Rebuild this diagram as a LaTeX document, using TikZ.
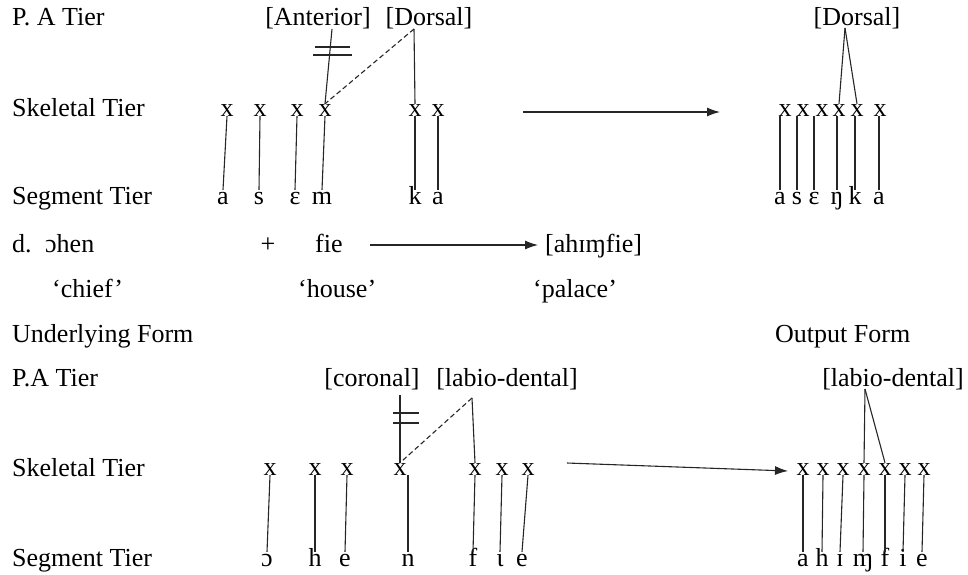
\documentclass[tikz,border=0pt]{standalone}
\usepackage{fontspec}
\setmainfont{Liberation Serif}
\usetikzlibrary{arrows.meta}
\begin{document}
\begin{tikzpicture}[x=1pt,y=-1pt,
  every node/.style={font=\fontsize{26}{30}\selectfont, inner sep=0pt},
  lbl/.style={anchor=base west},
  feat/.style={anchor=base},
  skx/.style={anchor=base, text height=12pt, text depth=0pt},
  seg/.style={anchor=base, text height=14pt, text depth=0pt},
  ln/.style={line width=1.1pt, draw=black!85},
  dsh/.style={ln, dash pattern=on 5pt off 3pt},
  arr/.style={ln, -{Latex[length=13pt,width=9pt]}}
]
\useasboundingbox (0,0) rectangle (968,574);

% ---------- top example ----------
\node[lbl] (pa1) at (12,25) {P. A Tier};
\node[lbl] (sk1) at (12,116) {Skeletal Tier};
\node[lbl] (sg1) at (12,204) {Segment Tier};
\node[feat] (ant) at (318,25) {[Anterior]};
\node[feat] (dor) at (429,25) {[Dorsal]};
\coordinate (antv) at (332,29);
\coordinate (dorv) at (414,29);
\foreach \n/\xx in {1/227,2/260,3/297,4/325,5/415,6/438}
  \node[skx] (tx\n) at (\xx,116) {x};
\node[seg] (ts1) at (223,204) {a};
\node[seg] (ts2) at (259,204) {s};
\node[seg] (ts3) at (295,204) {ɛ};
\node[seg] (ts4) at (322,204) {m};
\node[seg] (ts5) at (415,204) {k};
\node[seg] (ts6) at (438,204) {a};
\draw[ln] (antv) -- (tx4.north);
\draw[dsh] (dorv) -- (tx4.north);
\draw[ln] (dorv) -- (tx5.north);
\draw[ln] (315,47) -- (350,47);
\draw[ln] (313,55) -- (352,55);
\foreach \n in {1,...,6} \draw[ln] (tx\n.south) -- (ts\n.north);

\coordinate (a1s) at (523,112);
\coordinate (a1e) at (720,112);
\draw[arr] (a1s) -- (a1e);

\node[feat] (rdor) at (857,25) {[Dorsal]};
\coordinate (rdorv) at (845,28);
\foreach \n/\xx in {1/785,2/803,3/822,4/839,5/857,6/880}
  \node[skx] (rx\n) at (\xx,116) {x};
\node[seg] (rs1) at (780,204) {a};
\node[seg] (rs2) at (797,204) {s};
\node[seg] (rs3) at (814,204) {ɛ};
\node[seg] (rs4) at (837,204) {ŋ};
\node[seg] (rs5) at (855,204) {k};
\node[seg] (rs6) at (879,204) {a};
\foreach \n in {1,...,6} \draw[ln] (rs\n.north |- rx\n.south) -- (rs\n.north);
\draw[ln] (rdorv) -- (rx4.north);
\draw[ln] (rdorv) -- (rx5.north);

% ---------- middle ----------
\node[lbl] (d) at (12,252) {d.};
\node[lbl] (ohen) at (45,252) {ɔhen};
\node[feat] (plus) at (268,252) {+};
\node[lbl] (fie) at (315,252) {fie};
\node[lbl] (ahi) at (545,252) {[ahɪɱfie]};
\draw[arr] ([xshift=27pt,yshift=7pt]fie.base east) -- ([xshift=-7pt,yshift=7pt]ahi.base west);
\node[lbl] (chief) at (52,297) {‘chief’};
\node[lbl] (house) at (298,297) {‘house’};
\node[lbl] (palace) at (533,297) {‘palace’};

% ---------- bottom example ----------
\node[lbl] (uf) at (12,342) {Underlying Form};
\node[lbl] (of) at (775,342) {Output Form};
\node[lbl] (pa2) at (12,386) {P.A Tier};
\node[lbl] (sk2) at (12,476) {Skeletal Tier};
\node[lbl] (sg2) at (12,566) {Segment Tier};
\node[feat] (cor) at (372,386) {[coronal]};
\node[feat] (lab) at (507,386) {[labio-dental]};
\coordinate (corv) at (400,395);
\coordinate (labv) at (472,398);
\foreach \n/\xx in {1/270,2/315,3/347,4/400,5/475,6/502,7/528}
  \node[skx] (bx\n) at (\xx,475) {x};
\node[seg] (bs1) at (267,566) {ɔ};
\node[seg] (bs2) at (315,566) {h};
\node[seg] (bs3) at (345,566) {e};
\node[seg] (bs4) at (408,566) {n};
\node[seg] (bs5) at (473,566) {f};
\node[seg] (bs6) at (500,566) {ɩ};
\node[seg] (bs7) at (522,566) {e};
\draw[ln] (corv) -- (bx4.north);
\draw[dsh] (labv) -- (bx4.north);
\draw[ln] (labv) -- (bx5.north);
\draw[ln] (393,413) -- (419,413);
\draw[ln] (393,423) -- (419,423);
\foreach \n in {1,2,3,5,6,7} \draw[ln] (bx\n.south) -- (bs\n.north);
\draw[ln] (bs4.north |- bx4.south) -- (bs4.north);

\coordinate (a2s) at (567,463);
\coordinate (a2e) at (788,471);
\draw[arr] (a2s) -- (a2e);

\node[feat] (rlab) at (893,386) {[labio-dental]};
\coordinate (rlabv) at (865,389);
\foreach \n/\xx in {1/803,2/823,3/843,4/864,5/885,6/905,7/924}
  \node[skx] (rbx\n) at (\xx,475) {x};
\node[seg] (rbs1) at (803,566) {a};
\node[seg] (rbs2) at (822,566) {h};
\node[seg] (rbs3) at (840,566) {ɪ};
\node[seg] (rbs4) at (863,566) {ɱ};
\node[seg] (rbs5) at (885,566) {f};
\node[seg] (rbs6) at (903,566) {i};
\node[seg] (rbs7) at (922,566) {e};
\foreach \n in {1,...,7} \draw[ln] (rbx\n.south) -- (rbs\n.north);
\draw[ln] (rlabv) -- (rbx4.north);
\draw[ln] (rlabv) -- (rbx5.north);
\end{tikzpicture}
\end{document}
